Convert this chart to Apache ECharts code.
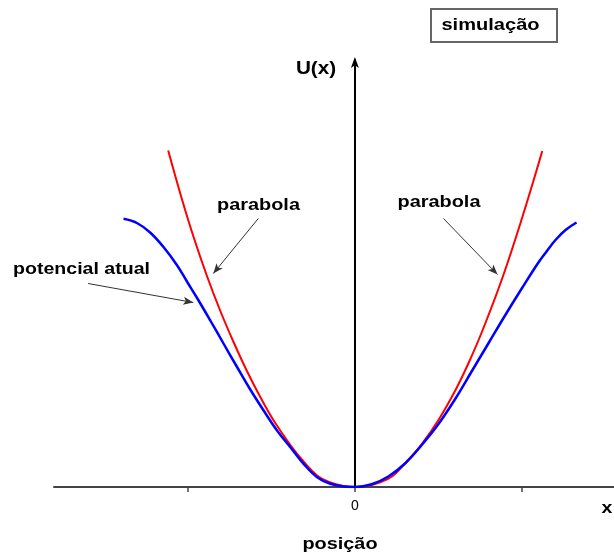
<!DOCTYPE html>
<html>
<head>
<meta charset="utf-8">
<script src="https://cdn.jsdelivr.net/npm/echarts@6/dist/echarts.min.js"></script>
<style>
  html, body { margin: 0; padding: 0; background: #fff; }
  #chart { width: 614px; height: 556px; }
</style>
</head>
<body>
<div id="chart"></div>
<script>
// Harmonic approximation: position (x) and U(x)
const parabolaX = [-1.117, -1.035, -0.965, -0.885, -0.805, -0.726, -0.646, -0.566, -0.486, -0.386, -0.307, -0.226, -0.147, -0.067, 0,
                   0.067, 0.147, 0.226, 0.307, 0.400, 0.500, 0.602, 0.680, 0.762, 0.881, 1.000, 1.121];
const parabolaU = [3.365, 2.880, 2.500, 2.110, 1.760, 1.450, 1.160, 0.900, 0.665, 0.420, 0.255, 0.115, 0.045, 0.010, 0,
                   0.010, 0.045, 0.110, 0.250, 0.430, 0.670, 0.970, 1.240, 1.560, 2.085, 2.690, 3.360];

// Actual potential: position (x) and U(x)
const actualX = [-1.384, -1.304, -1.225, -1.145, -1.065, -1.003, -0.944, -0.865, -0.786, -0.705, -0.626, -0.546, -0.466, -0.386,
                 -0.307, -0.226, -0.147, -0.067, 0,
                 0.100, 0.200, 0.300, 0.400, 0.500, 0.600, 0.700, 0.800, 0.900, 1.000, 1.100, 1.151, 1.200, 1.260, 1.326];
const actualU = [2.682, 2.640, 2.545, 2.400, 2.220, 2.050, 1.890, 1.665, 1.435, 1.200, 0.975, 0.765, 0.565, 0.398,
                 0.232, 0.098, 0.032, 0.005, 0,
                 0.027, 0.105, 0.235, 0.420, 0.630, 0.880, 1.160, 1.440, 1.720, 1.990, 2.250, 2.365, 2.470, 2.570, 2.645];

// x-axis ticks and their labels
const xTickValues = [-1, 0, 1];
const xLabelValues = [0];

// Annotation arrows: [from, to] in (x, U)
const arrowParabolaLeft = [[-0.578, 2.685], [-0.847, 2.135]];
const arrowParabolaRight = [[0.530, 2.685], [0.853, 2.125]];
const arrowActual = [[-1.596, 2.035], [-0.967, 1.845]];

const zip = (xs, ys) => xs.map((v, i) => [v, ys[i]]);
const arrow = (a) => [{ coord: a[0] }, { coord: a[1] }];

const chart = echarts.init(document.getElementById('chart'), null, { renderer: 'canvas' });

const boldFont = 'bold 17px "Liberation Sans", Arial, sans-serif';
const label = (text, x, y, sx, font) => ({
  type: 'text', x: x, y: y, scaleX: sx, z: 10,
  style: { text: text, font: font || boldFont, fill: '#000', textAlign: 'center', textVerticalAlign: 'middle' }
});

chart.setOption({
  animation: false,
  backgroundColor: '#fff',
  grid: { left: 54, right: 0, top: 60, bottom: 69, containLabel: false },
  xAxis: {
    type: 'value',
    min: -1.8, max: 1.55,
    axisLine: { onZero: true, lineStyle: { color: '#444', width: 2 } },
    axisTick: { show: true, customValues: xTickValues, length: 5, lineStyle: { color: '#444', width: 1.5 } },
    axisLabel: { show: true, customValues: xLabelValues, margin: 12,
                 fontSize: 14, color: '#000', fontFamily: '"Liberation Sans", Arial, sans-serif' },
    splitLine: { show: false }
  },
  yAxis: {
    type: 'value',
    min: 0, max: 4.27,
    axisLine: { show: true, onZero: true, symbol: ['none', 'arrow'], symbolSize: [6, 11],
                symbolOffset: [0, 3],
                lineStyle: { color: '#000', width: 2 } },
    axisTick: { show: false },
    axisLabel: { show: false },
    splitLine: { show: false }
  },
  series: [
    {
      name: 'parabola',
      type: 'line',
      smooth: 0.4,
      showSymbol: false,
      data: zip(parabolaX, parabolaU),
      lineStyle: { color: '#ff0000', width: 2 },
      z: 2,
      markLine: {
        silent: true,
        symbol: ['none', 'arrow'],
        symbolSize: [6, 10],
        label: { show: false },
        lineStyle: { color: '#333', width: 1, type: 'solid' },
        data: [arrow(arrowParabolaLeft), arrow(arrowParabolaRight), arrow(arrowActual)]
      }
    },
    {
      name: 'potencial atual',
      type: 'line',
      smooth: 0.4,
      showSymbol: false,
      data: zip(actualX, actualU),
      lineStyle: { color: '#0000ff', width: 2.5 },
      z: 3
    }
  ],
  graphic: [
    { type: 'rect', shape: { x: 431, y: 9, width: 126, height: 33 },
      style: { fill: '#fff', stroke: '#666', lineWidth: 2 }, z: 9 },
    label('simulação', 490.5, 25.5, 1.18),
    label('U(x)', 316, 69, 1.15, 'bold 18px "Liberation Sans", Arial, sans-serif'),
    label('parabola', 258.5, 205, 1.17),
    label('parabola', 439, 202, 1.17),
    label('potencial atual', 81.5, 269, 1.15),
    label('x', 607, 508, 1.15),
    label('posição', 340, 544, 1.17)
  ]
});
</script>
</body>
</html>
